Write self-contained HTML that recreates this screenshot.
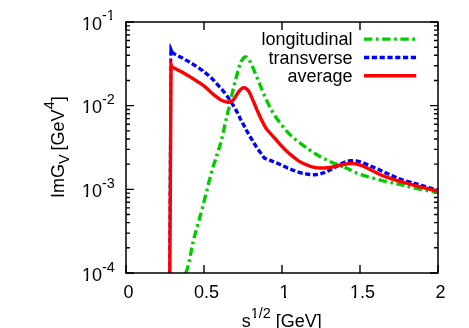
<!DOCTYPE html>
<html><head><meta charset="utf-8"><title>plot</title>
<style>html,body{margin:0;padding:0;background:#fff}svg{display:block}</style>
</head><body>
<svg width="469" height="328" viewBox="0 0 469 328" style="will-change:transform">
<defs><clipPath id="pc"><rect x="126" y="22" width="312" height="251"/></clipPath></defs>
<rect width="469" height="328" fill="#fff"/>
<path d="M126.0,22.00h8M438.0,22.00h-8M126.0,80.48h4M438.0,80.48h-4M126.0,65.75h4M438.0,65.75h-4M126.0,55.29h4M438.0,55.29h-4M126.0,47.19h4M438.0,47.19h-4M126.0,40.56h4M438.0,40.56h-4M126.0,34.96h4M438.0,34.96h-4M126.0,30.11h4M438.0,30.11h-4M126.0,25.83h4M438.0,25.83h-4M126.0,105.67h8M438.0,105.67h-8M126.0,164.15h4M438.0,164.15h-4M126.0,149.41h4M438.0,149.41h-4M126.0,138.96h4M438.0,138.96h-4M126.0,130.85h4M438.0,130.85h-4M126.0,124.23h4M438.0,124.23h-4M126.0,118.63h4M438.0,118.63h-4M126.0,113.77h4M438.0,113.77h-4M126.0,109.50h4M438.0,109.50h-4M126.0,189.33h8M438.0,189.33h-8M126.0,247.81h4M438.0,247.81h-4M126.0,233.08h4M438.0,233.08h-4M126.0,222.63h4M438.0,222.63h-4M126.0,214.52h4M438.0,214.52h-4M126.0,207.89h4M438.0,207.89h-4M126.0,202.29h4M438.0,202.29h-4M126.0,197.44h4M438.0,197.44h-4M126.0,193.16h4M438.0,193.16h-4M126.0,273.00h8M438.0,273.00h-8M126.00,22.0v8M126.00,273.0v-8M204.00,22.0v8M204.00,273.0v-8M282.00,22.0v8M282.00,273.0v-8M360.00,22.0v8M360.00,273.0v-8M438.00,22.0v8M438.00,273.0v-8" stroke="#000" stroke-width="1.4" fill="none"/>
<g clip-path="url(#pc)" fill="none" stroke-width="3.4" stroke-linejoin="round">
<path d="M185.61,273.28 L185.80,272.80 L186.00,272.31 L186.19,271.81 L186.37,271.31 L186.55,270.81 L186.73,270.30 L186.90,269.80 L187.07,269.30 L187.23,268.79 L187.39,268.28 L187.55,267.78 L187.70,267.27 L187.84,266.76 L187.99,266.25 L188.13,265.74 L188.22,265.40M189.08,261.91 L189.14,261.62 L189.25,261.11 L189.37,260.59 L189.48,260.07 L189.59,259.55 L189.64,259.28M190.33,255.78 L190.40,255.39 L190.50,254.86 L190.60,254.34 L190.69,253.82 L190.79,253.30 L190.88,252.78 L190.98,252.25 L191.08,251.73 L191.17,251.21 L191.27,250.69 L191.37,250.17 L191.46,249.64 L191.56,249.12 L191.66,248.60 L191.76,248.08 L191.84,247.69M192.56,244.19 L192.62,243.92 L192.73,243.40 L192.85,242.89 L192.97,242.37 L193.09,241.85 L193.16,241.58M194.02,238.12 L194.12,237.74 L194.26,237.23 L194.40,236.71 L194.53,236.20 L194.67,235.69 L194.81,235.18 L194.95,234.66 L195.10,234.15 L195.24,233.64 L195.38,233.13 L195.53,232.62 L195.67,232.11 L195.82,231.60 L195.96,231.09 L196.11,230.58 L196.22,230.19M197.20,226.76 L197.27,226.49 L197.42,225.98 L197.56,225.47 L197.71,224.96 L197.85,224.45 L197.93,224.16M198.92,220.66 L199.00,220.36 L199.14,219.85 L199.29,219.34 L199.43,218.83 L199.57,218.32 L199.71,217.81 L199.85,217.30 L199.99,216.79 L200.13,216.27 L200.27,215.76 L200.41,215.25 L200.55,214.74 L200.69,214.23 L200.83,213.72 L200.97,213.20 L201.11,212.69 L201.14,212.57M202.08,209.05 L202.20,208.59 L202.34,208.08 L202.47,207.56 L202.61,207.05 L202.74,206.54 L202.77,206.42M203.68,202.89 L203.80,202.43 L203.93,201.91 L204.06,201.40 L204.19,200.89 L204.32,200.37 L204.45,199.86 L204.58,199.34 L204.71,198.83 L204.84,198.31 L204.97,197.80 L205.10,197.29 L205.23,196.77 L205.36,196.26 L205.49,195.74 L205.62,195.23 L205.74,194.76M206.62,191.23 L206.65,191.11 L206.78,190.59 L206.91,190.08 L207.03,189.56 L207.16,189.05 L207.28,188.58M208.16,185.05 L208.20,184.93 L208.33,184.42 L208.46,183.90 L208.59,183.39 L208.72,182.87 L208.85,182.36 L208.98,181.85 L209.11,181.33 L209.24,180.82 L209.38,180.31 L209.51,179.79 L209.64,179.28 L209.78,178.77 L209.91,178.25 L210.05,177.74 L210.19,177.23 L210.27,176.93M211.22,173.43 L211.31,173.13 L211.45,172.62 L211.59,172.11 L211.74,171.60 L211.89,171.09 L211.96,170.83M212.98,167.40 L213.09,167.02 L213.25,166.51 L213.40,166.01 L213.56,165.50 L213.71,164.99 L213.87,164.49 L214.03,163.98 L214.19,163.47 L214.35,162.97 L214.51,162.46 L214.67,161.96 L214.83,161.45 L214.99,160.95 L215.16,160.44 L215.32,159.94 L215.44,159.56M216.56,156.17 L216.65,155.90 L216.82,155.40 L216.98,154.89 L217.15,154.39 L217.32,153.89 L217.40,153.63M218.51,150.24 L218.63,149.85 L218.79,149.34 L218.95,148.84 L219.11,148.33 L219.27,147.82 L219.42,147.32 L219.58,146.81 L219.73,146.30 L219.88,145.79 L220.03,145.29 L220.18,144.78 L220.32,144.27 L220.47,143.76 L220.61,143.25 L220.75,142.74 L220.85,142.35M221.75,138.90 L221.81,138.63 L221.94,138.12 L222.07,137.60 L222.19,137.09 L222.31,136.57 L222.38,136.27M223.20,132.73 L223.26,132.43 L223.38,131.91 L223.49,131.40 L223.61,130.88 L223.72,130.36 L223.83,129.84 L223.95,129.32 L224.06,128.80 L224.17,128.28 L224.28,127.76 L224.40,127.25 L224.51,126.73 L224.62,126.21 L224.73,125.69 L224.85,125.17 L224.96,124.65 L224.99,124.53M225.77,120.98 L225.88,120.50 L226.00,119.98 L226.12,119.46 L226.24,118.95 L226.35,118.43 L226.38,118.31M227.21,114.77 L227.32,114.29 L227.44,113.77 L227.56,113.26 L227.69,112.74 L227.81,112.22 L227.93,111.71 L228.05,111.19 L228.18,110.67 L228.30,110.16 L228.42,109.64 L228.55,109.13 L228.67,108.61 L228.79,108.09 L228.92,107.58 L229.04,107.06 L229.15,106.61M229.99,103.07 L230.02,102.94 L230.15,102.42 L230.27,101.91 L230.39,101.39 L230.51,100.88 L230.62,100.41M231.45,96.87 L231.47,96.76 L231.59,96.25 L231.71,95.73 L231.83,95.22 L231.95,94.70 L232.07,94.19 L232.19,93.67 L232.31,93.16 L232.43,92.64 L232.55,92.13 L232.68,91.61 L232.80,91.09 L232.92,90.58 L233.04,90.06 L233.17,89.54 L233.29,89.03 L233.37,88.70M234.23,85.17 L234.30,84.88 L234.43,84.36 L234.57,83.84 L234.70,83.32 L234.83,82.80 L234.90,82.53M235.82,79.04 L235.92,78.64 L236.06,78.12 L236.20,77.60 L236.34,77.09 L236.48,76.57 L236.62,76.06 L236.76,75.54 L236.90,75.03 L237.04,74.52 L237.18,74.01 L237.32,73.50 L237.46,72.99 L237.60,72.48 L237.74,71.98 L237.88,71.48 L238.01,71.02M238.98,67.55 L238.99,67.52 L239.13,67.04 L239.28,66.55 L239.43,66.07 L239.59,65.58 L239.75,65.10 L239.80,64.97M241.21,61.66 L241.21,61.65 L241.47,61.15 L241.76,60.64 L242.06,60.13 L242.38,59.62 L242.72,59.11 L243.08,58.61 L243.45,58.15 L243.84,57.74 L244.23,57.40 L244.64,57.13 L245.06,56.95 L245.47,56.89 L245.90,56.93 L246.32,57.08 L246.74,57.31 L247.01,57.52M249.32,60.26 L249.46,60.49 L249.80,61.02 L250.11,61.54 L250.41,62.06 L250.68,62.56 L250.70,62.59M252.23,65.85 L252.28,65.97 L252.47,66.44 L252.66,66.90 L252.84,67.37 L253.02,67.84 L253.20,68.30 L253.37,68.77 L253.55,69.24 L253.73,69.71 L253.91,70.18 L254.10,70.65 L254.29,71.12 L254.48,71.60 L254.68,72.08 L254.88,72.56 L255.09,73.05 L255.30,73.53 L255.31,73.57M256.76,76.88 L256.79,76.97 L257.01,77.46 L257.22,77.96 L257.44,78.45 L257.65,78.95 L257.83,79.36M259.19,82.70 L259.28,82.90 L259.47,83.39 L259.67,83.88 L259.86,84.37 L260.06,84.86 L260.25,85.36 L260.45,85.85 L260.64,86.34 L260.83,86.83 L261.03,87.32 L261.22,87.81 L261.42,88.30 L261.62,88.79 L261.81,89.28 L262.01,89.77 L262.21,90.26 L262.28,90.42M263.67,93.74 L263.85,94.17 L264.06,94.66 L264.27,95.15 L264.48,95.64 L264.69,96.12 L264.74,96.23M266.22,99.51 L266.44,100.00 L266.66,100.48 L266.89,100.96 L267.12,101.44 L267.34,101.92 L267.57,102.40 L267.80,102.88 L268.03,103.36 L268.26,103.84 L268.50,104.31 L268.73,104.79 L268.97,105.27 L269.21,105.74 L269.45,106.21 L269.69,106.69 L269.85,106.99M271.56,110.17 L271.70,110.42 L271.96,110.88 L272.23,111.34 L272.49,111.80 L272.76,112.26 L272.92,112.51M274.85,115.58 L275.03,115.85 L275.32,116.29 L275.62,116.73 L275.92,117.17 L276.22,117.61 L276.52,118.04 L276.83,118.48 L277.14,118.91 L277.44,119.34 L277.76,119.77 L278.07,120.20 L278.38,120.63 L278.70,121.05 L279.02,121.48 L279.33,121.90 L279.65,122.33 L279.69,122.38M281.90,125.25 L281.92,125.27 L282.25,125.69 L282.57,126.11 L282.90,126.53 L283.22,126.94 L283.55,127.36 L283.57,127.39M285.85,130.21 L285.88,130.25 L286.23,130.66 L286.58,131.06 L286.93,131.46 L287.28,131.85 L287.64,132.24 L288.00,132.63 L288.37,133.01 L288.74,133.39 L289.11,133.77 L289.49,134.14 L289.87,134.51 L290.25,134.88 L290.64,135.25 L291.02,135.61 L291.41,135.97 L291.66,136.20M294.40,138.57 L294.63,138.76 L295.04,139.10 L295.45,139.43 L295.86,139.77 L296.28,140.10 L296.49,140.27M299.31,142.47 L299.63,142.71 L300.05,143.03 L300.48,143.35 L300.90,143.67 L301.33,143.99 L301.75,144.30 L302.18,144.62 L302.61,144.93 L303.04,145.24 L303.46,145.56 L303.89,145.87 L304.32,146.18 L304.75,146.49 L305.18,146.80 L305.61,147.11 L305.94,147.34M308.85,149.41 L309.07,149.57 L309.51,149.88 L309.94,150.18 L310.38,150.48 L310.81,150.79 L311.04,150.94M314.01,152.93 L314.34,153.15 L314.79,153.43 L315.24,153.72 L315.69,154.00 L316.14,154.28 L316.59,154.55 L317.04,154.83 L317.50,155.10 L317.96,155.36 L318.42,155.63 L318.88,155.89 L319.34,156.15 L319.81,156.41 L320.27,156.66 L320.74,156.92 L321.09,157.11M324.26,158.75 L324.51,158.87 L324.98,159.11 L325.46,159.34 L325.94,159.58 L326.41,159.81 L326.66,159.93M329.89,161.46 L330.25,161.63 L330.73,161.85 L331.22,162.07 L331.70,162.29 L332.19,162.50 L332.67,162.72 L333.16,162.93 L333.65,163.14 L334.13,163.35 L334.62,163.55 L335.11,163.75 L335.61,163.95 L336.10,164.15 L336.59,164.34 L337.09,164.53 L337.46,164.68M340.82,165.90 L341.08,166.00 L341.57,166.18 L342.07,166.36 L342.57,166.54 L343.07,166.73 L343.34,166.83M344.56,167.30 L345.05,167.49 L345.54,167.69 L346.03,167.89 L346.52,168.10 L347.00,168.31 L347.49,168.53 L347.97,168.75 L348.45,168.98 L348.93,169.21 L349.40,169.44 L349.88,169.68 L350.35,169.92 L350.82,170.16 L351.30,170.40 L351.62,170.56M354.84,172.16 L355.10,172.28 L355.58,172.50 L356.07,172.72 L356.56,172.93 L357.04,173.14 L357.34,173.25M360.78,174.54 L361.02,174.62 L361.53,174.79 L362.03,174.95 L362.54,175.11 L363.04,175.27 L363.55,175.43 L364.06,175.59 L364.57,175.74 L365.08,175.89 L365.59,176.04 L366.10,176.19 L366.61,176.34 L367.12,176.48 L367.63,176.63 L368.14,176.77 L368.65,176.91 L368.89,176.98M372.44,177.95 L372.74,178.04 L373.25,178.18 L373.76,178.32 L374.28,178.46 L374.79,178.60 L375.09,178.69M378.63,179.66 L378.88,179.73 L379.39,179.87 L379.90,180.01 L380.42,180.14 L380.93,180.28 L381.44,180.41 L381.96,180.54 L382.47,180.67 L382.99,180.79 L383.50,180.92 L384.02,181.04 L384.53,181.16 L385.05,181.28 L385.57,181.40 L386.09,181.52 L386.60,181.63 L386.85,181.69M390.45,182.46 L390.76,182.52 L391.27,182.63 L391.79,182.74 L392.31,182.85 L392.83,182.96 L393.06,183.01M396.45,183.74 L396.46,183.74 L396.98,183.85 L397.50,183.97 L398.02,184.08 L398.54,184.20 L399.05,184.31 L399.57,184.43 L400.09,184.55 L400.61,184.66 L401.12,184.78 L401.64,184.90 L402.16,185.02 L402.67,185.14 L403.19,185.27 L403.71,185.39 L404.22,185.51 L404.23,185.52M407.60,186.33 L407.83,186.39 L408.35,186.51 L408.86,186.64 L409.38,186.76 L409.89,186.89 L410.20,186.96M413.77,187.81 L414.02,187.87 L414.54,187.99 L415.06,188.11 L415.57,188.23 L416.09,188.34 L416.61,188.46 L417.13,188.57 L417.65,188.69 L418.16,188.80 L418.68,188.91 L419.20,189.02 L419.72,189.13 L420.24,189.23 L420.76,189.34 L421.28,189.44 L421.80,189.55 L422.05,189.60M425.66,190.29 L425.97,190.35 L426.49,190.44 L427.01,190.54 L427.54,190.63 L428.06,190.73 L428.34,190.78M431.89,191.39 L432.24,191.45 L432.76,191.54 L433.29,191.63 L433.81,191.72 L434.33,191.80 L434.86,191.89 L435.38,191.98 L435.91,192.06 L436.43,192.15 L436.95,192.23 L437.48,192.32 L438.00,192.40" stroke="#00cc00"/>
<path d="M169.80,273.00 L171.14,52.00" stroke="#0000ff" stroke-width="2.9" stroke-dasharray="5.2 2.6" stroke-dashoffset="1.2" transform="translate(-0.25,0)"/>
<path d="M171.34,52.30 L171.57,52.42 L172.00,52.64 L172.43,52.86 L172.86,53.08 L173.29,53.30 L173.72,53.52 L174.14,53.74 L174.57,53.96 L175.00,54.18 L175.43,54.40 L175.86,54.63 L175.97,54.68M178.27,55.88 L178.43,55.97 L178.86,56.19 L179.29,56.42 L179.71,56.65 L180.14,56.88 L180.57,57.10 L180.99,57.33 L181.42,57.56 L181.84,57.79 L182.27,58.02 L182.69,58.25 L182.86,58.35M185.15,59.61 L185.23,59.66 L185.65,59.90 L186.07,60.13 L186.49,60.37 L186.91,60.61 L187.33,60.85 L187.75,61.09 L188.17,61.34 L188.59,61.58 L189.00,61.83 L189.42,62.07 L189.67,62.22M191.90,63.57 L192.31,63.82 L192.72,64.08 L193.13,64.33 L193.54,64.59 L193.95,64.85 L194.36,65.11 L194.76,65.37 L195.17,65.63 L195.57,65.89 L195.98,66.16 L196.31,66.37M198.47,67.83 L198.79,68.04 L199.19,68.31 L199.58,68.59 L199.98,68.87 L200.38,69.14 L200.77,69.42 L201.17,69.70 L201.56,69.98 L201.95,70.27 L202.35,70.55 L202.74,70.83 L202.74,70.84M204.83,72.40 L205.06,72.58 L205.45,72.87 L205.83,73.17 L206.21,73.47 L206.59,73.77 L206.96,74.08 L207.34,74.38 L207.71,74.69 L208.08,75.00 L208.45,75.31 L208.81,75.63 L208.88,75.69M210.82,77.44 L210.96,77.58 L211.31,77.91 L211.65,78.25 L211.99,78.59 L212.33,78.93 L212.67,79.28 L213.01,79.62 L213.34,79.97 L213.67,80.33 L214.00,80.68 L214.33,81.03 L214.50,81.23M216.29,83.21 L216.59,83.55 L216.92,83.91 L217.24,84.27 L217.56,84.63 L217.88,84.99 L218.21,85.35 L218.53,85.71 L218.85,86.07 L219.18,86.43 L219.50,86.79 L219.83,87.15 L219.87,87.19M221.65,89.19 L221.76,89.31 L222.08,89.68 L222.39,90.04 L222.71,90.41 L223.02,90.77 L223.33,91.14 L223.64,91.51 L223.95,91.89 L224.25,92.26 L224.55,92.64 L224.85,93.02 L225.07,93.30M226.67,95.44 L226.88,95.72 L227.16,96.12 L227.44,96.51 L227.72,96.91 L227.99,97.30 L228.27,97.70 L228.54,98.10 L228.81,98.50 L229.08,98.90 L229.35,99.30 L229.62,99.71 L229.71,99.84M231.17,102.08 L231.21,102.14 L231.47,102.55 L231.73,102.95 L231.99,103.36 L232.25,103.77 L232.51,104.18 L232.76,104.59 L233.02,105.00 L233.27,105.41 L233.52,105.83 L233.77,106.24 L234.00,106.62M235.35,108.94 L235.47,109.16 L235.71,109.59 L235.94,110.01 L236.17,110.43 L236.40,110.86 L236.63,111.28 L236.85,111.71 L237.07,112.14 L237.29,112.57 L237.51,113.00 L237.72,113.44 L237.79,113.58M238.92,115.90 L238.99,116.04 L239.20,116.48 L239.41,116.91 L239.63,117.35 L239.84,117.78 L240.06,118.21 L240.27,118.65 L240.49,119.08 L240.71,119.50 L240.94,119.93 L241.16,120.36 L241.24,120.50M242.46,122.77 L242.54,122.91 L242.77,123.34 L243.00,123.76 L243.23,124.19 L243.46,124.61 L243.69,125.04 L243.92,125.46 L244.15,125.89 L244.38,126.31 L244.61,126.74 L244.84,127.16 L244.92,127.30M246.14,129.57 L246.21,129.72 L246.44,130.14 L246.68,130.57 L246.91,130.99 L247.14,131.41 L247.37,131.84 L247.61,132.26 L247.84,132.68 L248.08,133.10 L248.32,133.52 L248.56,133.94 L248.64,134.08M249.94,136.30 L250.02,136.44 L250.27,136.86 L250.52,137.27 L250.76,137.69 L251.01,138.11 L251.26,138.52 L251.50,138.94 L251.75,139.35 L252.00,139.77 L252.24,140.18 L252.49,140.60 L252.57,140.74M253.90,142.94 L253.99,143.08 L254.24,143.49 L254.49,143.91 L254.75,144.32 L255.01,144.72 L255.26,145.13 L255.52,145.54 L255.79,145.94 L256.05,146.35 L256.32,146.75 L256.59,147.15 L256.72,147.35M258.23,149.54 L258.51,149.94 L258.78,150.33 L259.06,150.73 L259.34,151.12 L259.62,151.52 L259.91,151.91 L260.19,152.30 L260.47,152.69 L260.75,153.09 L261.04,153.48 L261.32,153.87M262.87,156.03 L263.01,156.23 L263.29,156.62 L263.57,157.01 L263.85,157.41 L264.12,157.80 L264.40,158.20 L264.75,158.33 L265.09,158.46 L265.44,158.59 L265.79,158.71 L266.14,158.84 L266.48,158.97 L266.79,159.09M269.18,159.98 L269.26,160.01 L269.60,160.14 L269.95,160.27 L270.30,160.41 L270.64,160.54 L270.99,160.67 L271.33,160.81 L271.68,160.94 L272.02,161.07 L272.37,161.21 L272.71,161.35 L273.06,161.48 L273.40,161.62 L273.75,161.76 L273.94,161.83M276.30,162.80 L276.49,162.88 L276.83,163.03 L277.17,163.17 L277.51,163.32 L277.85,163.46 L278.19,163.61 L278.53,163.76 L278.87,163.91 L279.20,164.06 L279.54,164.21 L279.88,164.37 L280.22,164.52 L280.56,164.67 L280.89,164.82 L280.97,164.86M283.29,165.92 L283.58,166.06 L283.92,166.22 L284.26,166.37 L284.59,166.53 L284.93,166.68 L285.27,166.84 L285.60,166.99 L285.94,167.15 L286.28,167.30 L286.61,167.45 L286.95,167.61 L287.29,167.76 L287.63,167.91 L287.96,168.06 L287.97,168.06M290.34,169.10 L290.68,169.25 L291.02,169.39 L291.36,169.53 L291.71,169.67 L292.05,169.82 L292.39,169.96 L292.73,170.09 L293.08,170.23 L293.42,170.37 L293.77,170.50 L294.12,170.64 L294.46,170.77 L294.81,170.90 L295.16,171.03 L295.16,171.03M297.61,171.88 L297.96,172.00 L298.31,172.11 L298.67,172.22 L299.02,172.32 L299.38,172.43 L299.73,172.53 L300.09,172.63 L300.44,172.73 L300.80,172.83 L301.16,172.92 L301.52,173.01 L301.88,173.10 L302.24,173.18 L302.60,173.27 L302.61,173.27M305.15,173.79 L305.50,173.85 L305.87,173.91 L306.24,173.97 L306.60,174.03 L306.97,174.09 L307.34,174.15 L307.70,174.20 L308.07,174.25 L308.44,174.31 L308.81,174.35 L309.18,174.40 L309.54,174.45 L309.91,174.49 L310.28,174.53M312.87,174.71 L312.87,174.71 L313.24,174.72 L313.61,174.73 L313.98,174.72 L314.35,174.72 L314.72,174.70 L315.09,174.68 L315.46,174.66 L315.83,174.63 L316.20,174.59 L316.57,174.55 L316.93,174.50 L317.30,174.45 L317.67,174.39 L317.94,174.34M320.39,173.80 L320.57,173.75 L320.93,173.65 L321.29,173.54 L321.65,173.44 L322.00,173.33 L322.36,173.21 L322.71,173.10 L323.06,172.98 L323.41,172.86 L323.76,172.73 L324.11,172.60 L324.45,172.47 L324.80,172.34 L325.13,172.21M327.43,171.23 L327.53,171.19 L327.87,171.03 L328.20,170.88 L328.54,170.72 L328.87,170.56 L329.21,170.41 L329.54,170.24 L329.88,170.08 L330.21,169.92 L330.54,169.75 L330.87,169.59 L331.20,169.42 L331.53,169.25 L331.86,169.08 L331.93,169.04M334.14,167.85 L334.14,167.84 L334.46,167.66 L334.79,167.48 L335.11,167.30 L335.43,167.11 L335.75,166.93 L336.07,166.74 L336.39,166.56 L336.71,166.37 L337.03,166.18 L337.35,165.99 L337.66,165.80 L337.98,165.61 L338.30,165.43 L338.46,165.33M340.64,164.10 L340.88,163.97 L341.21,163.80 L341.54,163.63 L341.87,163.46 L342.21,163.30 L342.54,163.14 L342.88,162.98 L343.22,162.83 L343.56,162.68 L343.91,162.53 L344.25,162.39 L344.60,162.25 L344.95,162.12 L345.30,161.99 L345.32,161.99M347.83,161.24 L348.16,161.16 L348.53,161.08 L348.89,161.01 L349.26,160.94 L349.62,160.88 L349.99,160.83 L350.36,160.78 L350.73,160.74 L351.10,160.71 L351.47,160.68 L351.84,160.66 L352.21,160.65 L352.58,160.65 L352.95,160.65 L353.05,160.65M355.67,160.86 L355.91,160.89 L356.28,160.95 L356.65,161.01 L357.01,161.08 L357.38,161.15 L357.74,161.23 L358.10,161.31 L358.46,161.40 L358.82,161.49 L359.18,161.59 L359.54,161.69 L359.89,161.79 L360.25,161.90 L360.60,162.01 L360.78,162.07M363.26,162.94 L363.40,163.00 L363.74,163.13 L364.09,163.26 L364.43,163.40 L364.78,163.53 L365.12,163.67 L365.46,163.81 L365.81,163.95 L366.15,164.09 L366.49,164.23 L366.83,164.38 L367.17,164.52 L367.52,164.66 L367.86,164.81 L368.13,164.93M370.55,165.96 L370.58,165.98 L370.92,166.13 L371.26,166.27 L371.60,166.42 L371.94,166.57 L372.28,166.71 L372.62,166.86 L372.96,167.01 L373.30,167.15 L373.64,167.30 L373.98,167.45 L374.32,167.60 L374.66,167.74 L375.00,167.89 L375.31,168.03M377.65,169.07 L377.71,169.09 L378.05,169.24 L378.38,169.39 L378.72,169.55 L379.06,169.70 L379.40,169.85 L379.73,170.00 L380.07,170.16 L380.41,170.31 L380.74,170.47 L381.08,170.62 L381.42,170.78 L381.75,170.93 L382.09,171.09 L382.32,171.19M384.64,172.27 L384.77,172.34 L385.11,172.49 L385.44,172.65 L385.78,172.81 L386.12,172.96 L386.45,173.12 L386.79,173.27 L387.12,173.43 L387.46,173.59 L387.80,173.74 L388.13,173.90 L388.47,174.05 L388.80,174.21 L389.14,174.36 L389.29,174.43M391.62,175.49 L391.84,175.59 L392.18,175.74 L392.52,175.89 L392.86,176.04 L393.20,176.19 L393.54,176.34 L393.88,176.49 L394.22,176.63 L394.56,176.78 L394.90,176.93 L395.24,177.07 L395.58,177.22 L395.92,177.36 L396.27,177.50 L396.32,177.53M398.70,178.49 L399.02,178.61 L399.36,178.75 L399.71,178.88 L400.05,179.01 L400.40,179.14 L400.75,179.27 L401.09,179.40 L401.44,179.52 L401.79,179.65 L402.14,179.77 L402.49,179.89 L402.84,180.01 L403.19,180.13 L403.54,180.25 L403.54,180.25M406.01,181.03 L406.37,181.14 L406.72,181.24 L407.08,181.34 L407.43,181.45 L407.79,181.55 L408.14,181.65 L408.50,181.75 L408.86,181.85 L409.21,181.95 L409.57,182.05 L409.93,182.14 L410.29,182.24 L410.64,182.34 L411.00,182.43 L411.01,182.44M413.51,183.10 L413.87,183.20 L414.22,183.30 L414.58,183.39 L414.94,183.49 L415.30,183.59 L415.65,183.68 L416.01,183.78 L416.37,183.88 L416.73,183.98 L417.08,184.08 L417.44,184.18 L417.80,184.28 L418.15,184.38 L418.51,184.49 L418.51,184.49M420.99,185.22 L420.99,185.22 L421.35,185.33 L421.70,185.44 L422.06,185.55 L422.41,185.66 L422.76,185.76 L423.12,185.87 L423.47,185.98 L423.83,186.09 L424.18,186.20 L424.53,186.31 L424.89,186.42 L425.24,186.53 L425.59,186.64 L425.95,186.75M428.42,187.53 L428.42,187.53 L428.77,187.64 L429.13,187.75 L429.48,187.86 L429.83,187.97 L430.19,188.08 L430.54,188.19 L430.90,188.30 L431.25,188.41 L431.60,188.52 L431.96,188.63 L432.31,188.74 L432.67,188.85 L433.02,188.95 L433.38,189.06 L433.38,189.06M435.88,189.80 L436.22,189.90 L436.57,190.00 L436.93,190.10 L437.29,190.20 L437.64,190.30 L438.00,190.40" stroke="#0000ff"/>
<path d="M169.40,54.30 L169.40,45.50 L169.80,43.30 L170.30,43.60 L173.50,51.40 L173.50,54.30Z" fill="#0000ff" stroke="none"/>
<path d="M169.80,273.00 L171.05,66.80 L171.82,67.09 L172.58,67.40 L173.34,67.73 L174.09,68.07 L174.83,68.42 L175.57,68.79 L176.31,69.15 L177.05,69.52 L177.79,69.90 L178.52,70.27 L179.25,70.65 L179.99,71.03 L180.72,71.41 L181.44,71.80 L182.17,72.19 L182.89,72.59 L183.60,73.00 L184.32,73.41 L185.03,73.83 L185.74,74.25 L186.45,74.67 L187.16,75.09 L187.86,75.52 L188.57,75.94 L189.27,76.37 L189.98,76.80 L190.68,77.24 L191.38,77.67 L192.08,78.11 L192.77,78.55 L193.47,78.99 L194.16,79.44 L194.85,79.88 L195.55,80.33 L196.24,80.78 L196.93,81.22 L197.63,81.67 L198.33,82.11 L199.03,82.54 L199.73,82.98 L200.43,83.43 L201.12,83.87 L201.80,84.33 L202.48,84.80 L203.15,85.28 L203.80,85.79 L204.44,86.30 L205.07,86.83 L205.69,87.38 L206.30,87.93 L206.90,88.49 L207.50,89.06 L208.10,89.63 L208.70,90.20 L209.30,90.77 L209.90,91.33 L210.51,91.89 L211.12,92.44 L211.74,92.99 L212.36,93.53 L212.98,94.06 L213.61,94.59 L214.25,95.12 L214.89,95.64 L215.53,96.16 L216.18,96.68 L216.83,97.20 L217.49,97.71 L218.15,98.20 L218.83,98.68 L219.51,99.14 L220.21,99.56 L220.93,99.96 L221.66,100.32 L222.40,100.65 L223.17,100.95 L223.94,101.23 L224.73,101.48 L225.54,101.70 L226.36,101.91 L227.19,102.10 L228.02,102.23 L228.84,102.27 L229.63,102.17 L230.40,101.92 L231.14,101.54 L231.83,101.06 L232.49,100.50 L233.09,99.90 L233.66,99.28 L234.18,98.63 L234.68,97.96 L235.14,97.28 L235.59,96.59 L236.02,95.89 L236.45,95.20 L236.87,94.50 L237.30,93.82 L237.74,93.15 L238.19,92.48 L238.67,91.82 L239.18,91.17 L239.73,90.52 L240.32,89.87 L240.96,89.24 L241.64,88.66 L242.35,88.18 L243.09,87.84 L243.84,87.70 L244.59,87.78 L245.34,88.07 L246.07,88.51 L246.77,89.07 L247.42,89.70 L248.00,90.36 L248.52,91.05 L248.99,91.74 L249.42,92.45 L249.80,93.18 L250.16,93.91 L250.50,94.65 L250.82,95.39 L251.13,96.14 L251.45,96.89 L251.77,97.65 L252.09,98.40 L252.42,99.16 L252.74,99.91 L253.07,100.67 L253.40,101.43 L253.73,102.19 L254.05,102.95 L254.38,103.71 L254.70,104.47 L255.03,105.24 L255.35,106.00 L255.67,106.76 L255.99,107.52 L256.31,108.28 L256.63,109.04 L256.95,109.80 L257.27,110.55 L257.59,111.31 L257.91,112.07 L258.24,112.83 L258.57,113.58 L258.91,114.33 L259.24,115.09 L259.59,115.84 L259.93,116.59 L260.28,117.33 L260.64,118.08 L261.00,118.82 L261.36,119.56 L261.73,120.29 L262.10,121.03 L262.47,121.77 L262.85,122.50 L263.22,123.24 L263.60,123.97 L263.98,124.71 L264.37,125.43 L264.77,126.16 L265.19,126.87 L265.62,127.57 L266.07,128.26 L266.54,128.93 L267.03,129.59 L267.54,130.24 L268.07,130.87 L268.61,131.49 L269.16,132.11 L269.72,132.72 L270.28,133.33 L270.84,133.94 L271.39,134.55 L271.95,135.16 L272.50,135.78 L273.05,136.39 L273.60,137.00 L274.14,137.62 L274.69,138.24 L275.24,138.85 L275.78,139.47 L276.33,140.09 L276.87,140.71 L277.42,141.32 L277.97,141.94 L278.52,142.56 L279.06,143.17 L279.61,143.79 L280.16,144.40 L280.72,145.01 L281.27,145.62 L281.83,146.23 L282.39,146.84 L282.95,147.44 L283.52,148.03 L284.10,148.62 L284.68,149.21 L285.26,149.79 L285.85,150.37 L286.45,150.94 L287.05,151.50 L287.66,152.06 L288.27,152.62 L288.88,153.16 L289.51,153.70 L290.13,154.24 L290.76,154.77 L291.40,155.29 L292.04,155.81 L292.68,156.33 L293.32,156.85 L293.96,157.37 L294.61,157.89 L295.25,158.40 L295.90,158.91 L296.56,159.41 L297.22,159.91 L297.90,160.38 L298.58,160.84 L299.27,161.28 L299.98,161.70 L300.70,162.10 L301.43,162.48 L302.17,162.85 L302.92,163.20 L303.67,163.55 L304.43,163.88 L305.18,164.21 L305.94,164.53 L306.70,164.85 L307.47,165.16 L308.24,165.46 L309.01,165.75 L309.78,166.03 L310.57,166.29 L311.35,166.54 L312.15,166.77 L312.94,166.99 L313.74,167.18 L314.55,167.36 L315.36,167.51 L316.17,167.64 L316.99,167.75 L317.81,167.83 L318.63,167.90 L319.46,167.95 L320.28,167.99 L321.11,168.01 L321.94,168.03 L322.76,168.03 L323.59,168.01 L324.41,167.99 L325.23,167.94 L326.06,167.89 L326.88,167.81 L327.70,167.72 L328.51,167.62 L329.33,167.50 L330.14,167.36 L330.96,167.22 L331.77,167.06 L332.57,166.90 L333.38,166.73 L334.19,166.55 L334.99,166.36 L335.80,166.18 L336.60,165.99 L337.40,165.79 L338.20,165.60 L339.00,165.41 L339.81,165.22 L340.61,165.04 L341.41,164.85 L342.22,164.68 L343.03,164.51 L343.84,164.36 L344.65,164.21 L345.46,164.07 L346.28,163.95 L347.10,163.84 L347.92,163.75 L348.75,163.67 L349.57,163.62 L350.39,163.58 L351.22,163.57 L352.04,163.58 L352.87,163.61 L353.69,163.68 L354.51,163.77 L355.33,163.88 L356.15,164.01 L356.96,164.17 L357.77,164.36 L358.58,164.56 L359.38,164.79 L360.17,165.03 L360.95,165.30 L361.73,165.58 L362.51,165.88 L363.27,166.20 L364.02,166.53 L364.77,166.88 L365.52,167.23 L366.26,167.60 L366.99,167.97 L367.73,168.35 L368.46,168.72 L369.19,169.10 L369.93,169.47 L370.66,169.84 L371.40,170.21 L372.14,170.57 L372.88,170.94 L373.62,171.31 L374.36,171.67 L375.09,172.04 L375.83,172.42 L376.56,172.79 L377.30,173.17 L378.04,173.54 L378.77,173.91 L379.51,174.27 L380.26,174.63 L381.01,174.97 L381.76,175.30 L382.52,175.61 L383.29,175.91 L384.06,176.20 L384.84,176.48 L385.62,176.75 L386.40,177.02 L387.18,177.28 L387.96,177.55 L388.74,177.82 L389.52,178.09 L390.30,178.37 L391.07,178.64 L391.85,178.91 L392.63,179.18 L393.41,179.45 L394.19,179.71 L394.98,179.96 L395.77,180.20 L396.56,180.43 L397.35,180.65 L398.15,180.87 L398.94,181.08 L399.74,181.29 L400.54,181.50 L401.34,181.71 L402.13,181.92 L402.93,182.14 L403.73,182.35 L404.52,182.57 L405.32,182.79 L406.11,183.01 L406.90,183.24 L407.70,183.46 L408.49,183.69 L409.28,183.92 L410.07,184.15 L410.87,184.37 L411.66,184.60 L412.45,184.83 L413.25,185.05 L414.04,185.27 L414.83,185.49 L415.63,185.71 L416.42,185.92 L417.22,186.13 L418.02,186.34 L418.82,186.54 L419.62,186.75 L420.42,186.95 L421.22,187.15 L422.02,187.34 L422.82,187.54 L423.62,187.74 L424.42,187.93 L425.22,188.13 L426.02,188.32 L426.82,188.52 L427.63,188.71 L428.43,188.91 L429.23,189.10 L430.03,189.30 L430.83,189.50 L431.63,189.70 L432.43,189.90 L433.22,190.11 L434.02,190.32 L434.82,190.53 L435.62,190.74 L436.41,190.96 L437.21,191.18 L438.00,191.40" stroke="#ff0000"/>
<path d="M169.40,67.00 L169.40,60.00 L169.80,57.90 L170.30,58.20 L173.10,65.00 L172.50,67.50Z" fill="#ff0000" stroke="none"/>
</g>
<rect x="126.0" y="22.0" width="312.0" height="251.0" fill="none" stroke="#000" stroke-width="1.5"/>
<g fill="none" stroke-width="3.4">
<path d="M364,39.1H416" stroke="#00cc00" stroke-dasharray="8.3 3.6 2.7 3.6"/>
<path d="M364,57.5H416" stroke="#0000ff" stroke-dasharray="5.2 2.6"/>
<path d="M364,75.75H416.2" stroke="#ff0000"/>
</g>
<g font-family="'Liberation Sans', sans-serif" font-size="18" fill="#000" style="filter:grayscale(1)">
<text x="352.6" y="45.4" text-anchor="end">longitudinal</text>
<text x="352.6" y="63.6" text-anchor="end">transverse</text>
<text x="352.6" y="81.8" text-anchor="end">average</text>
<text x="128.4" y="297.8" text-anchor="middle">0</text>
<text x="206.4" y="297.8" text-anchor="middle">0.5</text>
<text x="284.4" y="297.8" text-anchor="middle">1</text>
<text x="362.4" y="297.8" text-anchor="middle">1.5</text>
<text x="440.4" y="297.8" text-anchor="middle">2</text>
<text x="82" y="29.60">10<tspan font-size="14.4" dy="-9.5">-1</tspan></text>
<text x="82" y="113.42">10<tspan font-size="14.4" dy="-9.0">-2</tspan></text>
<text x="82" y="197.23">10<tspan font-size="14.4" dy="-9.0">-3</tspan></text>
<text x="82" y="281.05">10<tspan font-size="14.4" dy="-9.0">-4</tspan></text>
<text x="241.8" y="327">s<tspan font-size="14.4" dy="-9.5">1/2</tspan><tspan dy="9.5"> [GeV]</tspan></text>
<text transform="translate(64.2,198.0) rotate(-90)">ImG<tspan font-size="14.4" dy="4.5">V</tspan><tspan dy="-4.5" dx="-1.0"> [GeV</tspan><tspan font-size="14.4" dy="-10">4</tspan><tspan dy="10">]</tspan></text>
</g>
<g fill="#fff" shape-rendering="crispEdges"><rect x="279.87" y="295.66" width="3.96" height="2.94"/><rect x="285.61" y="295.66" width="3.81" height="2.94"/><rect x="350.36" y="295.66" width="3.96" height="2.94"/><rect x="356.11" y="295.66" width="3.81" height="2.94"/><rect x="82.47" y="27.46" width="3.96" height="2.94"/><rect x="88.22" y="27.46" width="3.81" height="2.94"/><rect x="82.47" y="111.27" width="3.96" height="2.94"/><rect x="88.22" y="111.27" width="3.81" height="2.94"/><rect x="82.47" y="195.09" width="3.96" height="2.94"/><rect x="88.22" y="195.09" width="3.81" height="2.94"/><rect x="82.47" y="278.91" width="3.96" height="2.94"/><rect x="88.22" y="278.91" width="3.81" height="2.94"/><rect x="107.01" y="18.22" width="3.32" height="2.68"/><rect x="111.81" y="18.22" width="3.21" height="2.68"/><rect x="251.00" y="315.62" width="3.32" height="2.68"/><rect x="255.79" y="315.62" width="3.21" height="2.68"/></g>
</svg>
</body></html>
